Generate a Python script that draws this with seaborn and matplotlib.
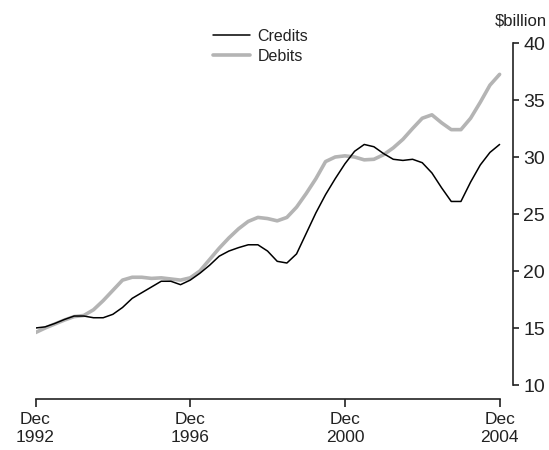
import numpy as np
import pandas as pd
import seaborn as sns
import matplotlib
matplotlib.use("Agg")
import matplotlib.pyplot as plt

# =========================
# DATA (quarterly, Dec 1992 - Dec 2004, $billion)
# =========================
quarters = list(range(49))

credits = [
    15.0, 15.1, 15.4, 15.75, 16.05, 16.05, 15.9, 15.9, 16.2, 16.8,
    17.6, 18.1, 18.6, 19.1, 19.1, 18.8, 19.2, 19.8, 20.5, 21.3,
    21.75, 22.05, 22.3, 22.3, 21.75, 20.85, 20.7, 21.5, 23.3, 25.1,
    26.7, 28.1, 29.4, 30.5, 31.1, 30.9, 30.3, 29.8, 29.7, 29.8,
    29.5, 28.6, 27.3, 26.1, 26.1, 27.8, 29.3, 30.4, 31.1,
]

debits = [
    14.6, 15.0, 15.35, 15.7, 16.0, 16.1, 16.6, 17.4, 18.3, 19.2,
    19.45, 19.45, 19.35, 19.4, 19.3, 19.2, 19.4, 20.0, 21.0, 22.0,
    22.9, 23.7, 24.35, 24.7, 24.6, 24.4, 24.7, 25.6, 26.8, 28.1,
    29.6, 30.0, 30.1, 30.0, 29.75, 29.8, 30.2, 30.8, 31.55, 32.5,
    33.4, 33.7, 33.0, 32.4, 32.4, 33.4, 34.8, 36.3, 37.25,
]

tick_pos = [0, 16, 32, 48]
tick_labels = ["Dec\n1992", "Dec\n1996", "Dec\n2000", "Dec\n2004"]
y_ticks = [10, 15, 20, 25, 30, 35, 40]

df = pd.DataFrame({"quarter": quarters, "Credits": credits, "Debits": debits})

# =========================
# STYLE
# =========================
sns.set_theme(style="white")
plt.rcParams["font.family"] = ["Liberation Sans", "DejaVu Sans"]
ink = "#222222"

fig = plt.figure(figsize=(5.49, 4.5), dpi=100)
ax = fig.add_axes([35.5 / 549, 1 - 399 / 450, (513 - 35.5) / 549, (399 - 43) / 450])

grey = "#b4b4b4"
sns.lineplot(data=df, x="quarter", y="Debits", ax=ax, color=grey, linewidth=2.6, label="Debits")
sns.lineplot(data=df, x="quarter", y="Credits", ax=ax, color="black", linewidth=1.1, label="Credits")

# =========================
# AXES
# =========================
px_per_q = (499.6 - 35.5) / 48
ax.set_xlim(0, 48 + (513 - 499.6) / px_per_q)
px_per_unit = (385 - 43) / 30
ax.set_ylim(10 - (399 - 385) / px_per_unit, 40)

ax.set_xlabel("")
ax.set_ylabel("")

for s in ["top", "left"]:
    ax.spines[s].set_visible(False)
for s in ["bottom", "right"]:
    ax.spines[s].set_color(ink)
    ax.spines[s].set_linewidth(1.2)
ax.spines["bottom"].set_bounds(0, 48)
ax.spines["right"].set_bounds(10, 40)

ax.set_xticks(tick_pos)
ax.set_xticklabels(tick_labels, fontsize=12.5, linespacing=1.3, color=ink)
ax.tick_params(axis="x", direction="out", length=6, width=1.2, color=ink, pad=3, bottom=True)

ax.yaxis.tick_right()
ax.set_yticks(y_ticks)
ax.set_yticklabels([str(v) for v in y_ticks], fontsize=14, color=ink)
ax.tick_params(axis="y", direction="out", length=4, width=1.2, color=ink, pad=3.5, right=True, left=False)

ax.text(547 / 549, 1 - 21 / 450, "$billion", transform=fig.transFigure,
        ha="right", va="center", fontsize=12, color=ink)

# legend: Credits first, then Debits
handles, labels = ax.get_legend_handles_labels()
order = [labels.index("Credits"), labels.index("Debits")]
ax.legend([handles[i] for i in order], [labels[i] for i in order],
          loc="upper left", bbox_to_anchor=(213 / 549, 1 - 29 / 450),
          bbox_transform=fig.transFigure, frameon=False, fontsize=11.5,
          handlelength=2.3, handletextpad=0.5, labelspacing=0.3, borderpad=0,
          borderaxespad=0, labelcolor=ink)

fig.savefig("out.png", dpi=100)
